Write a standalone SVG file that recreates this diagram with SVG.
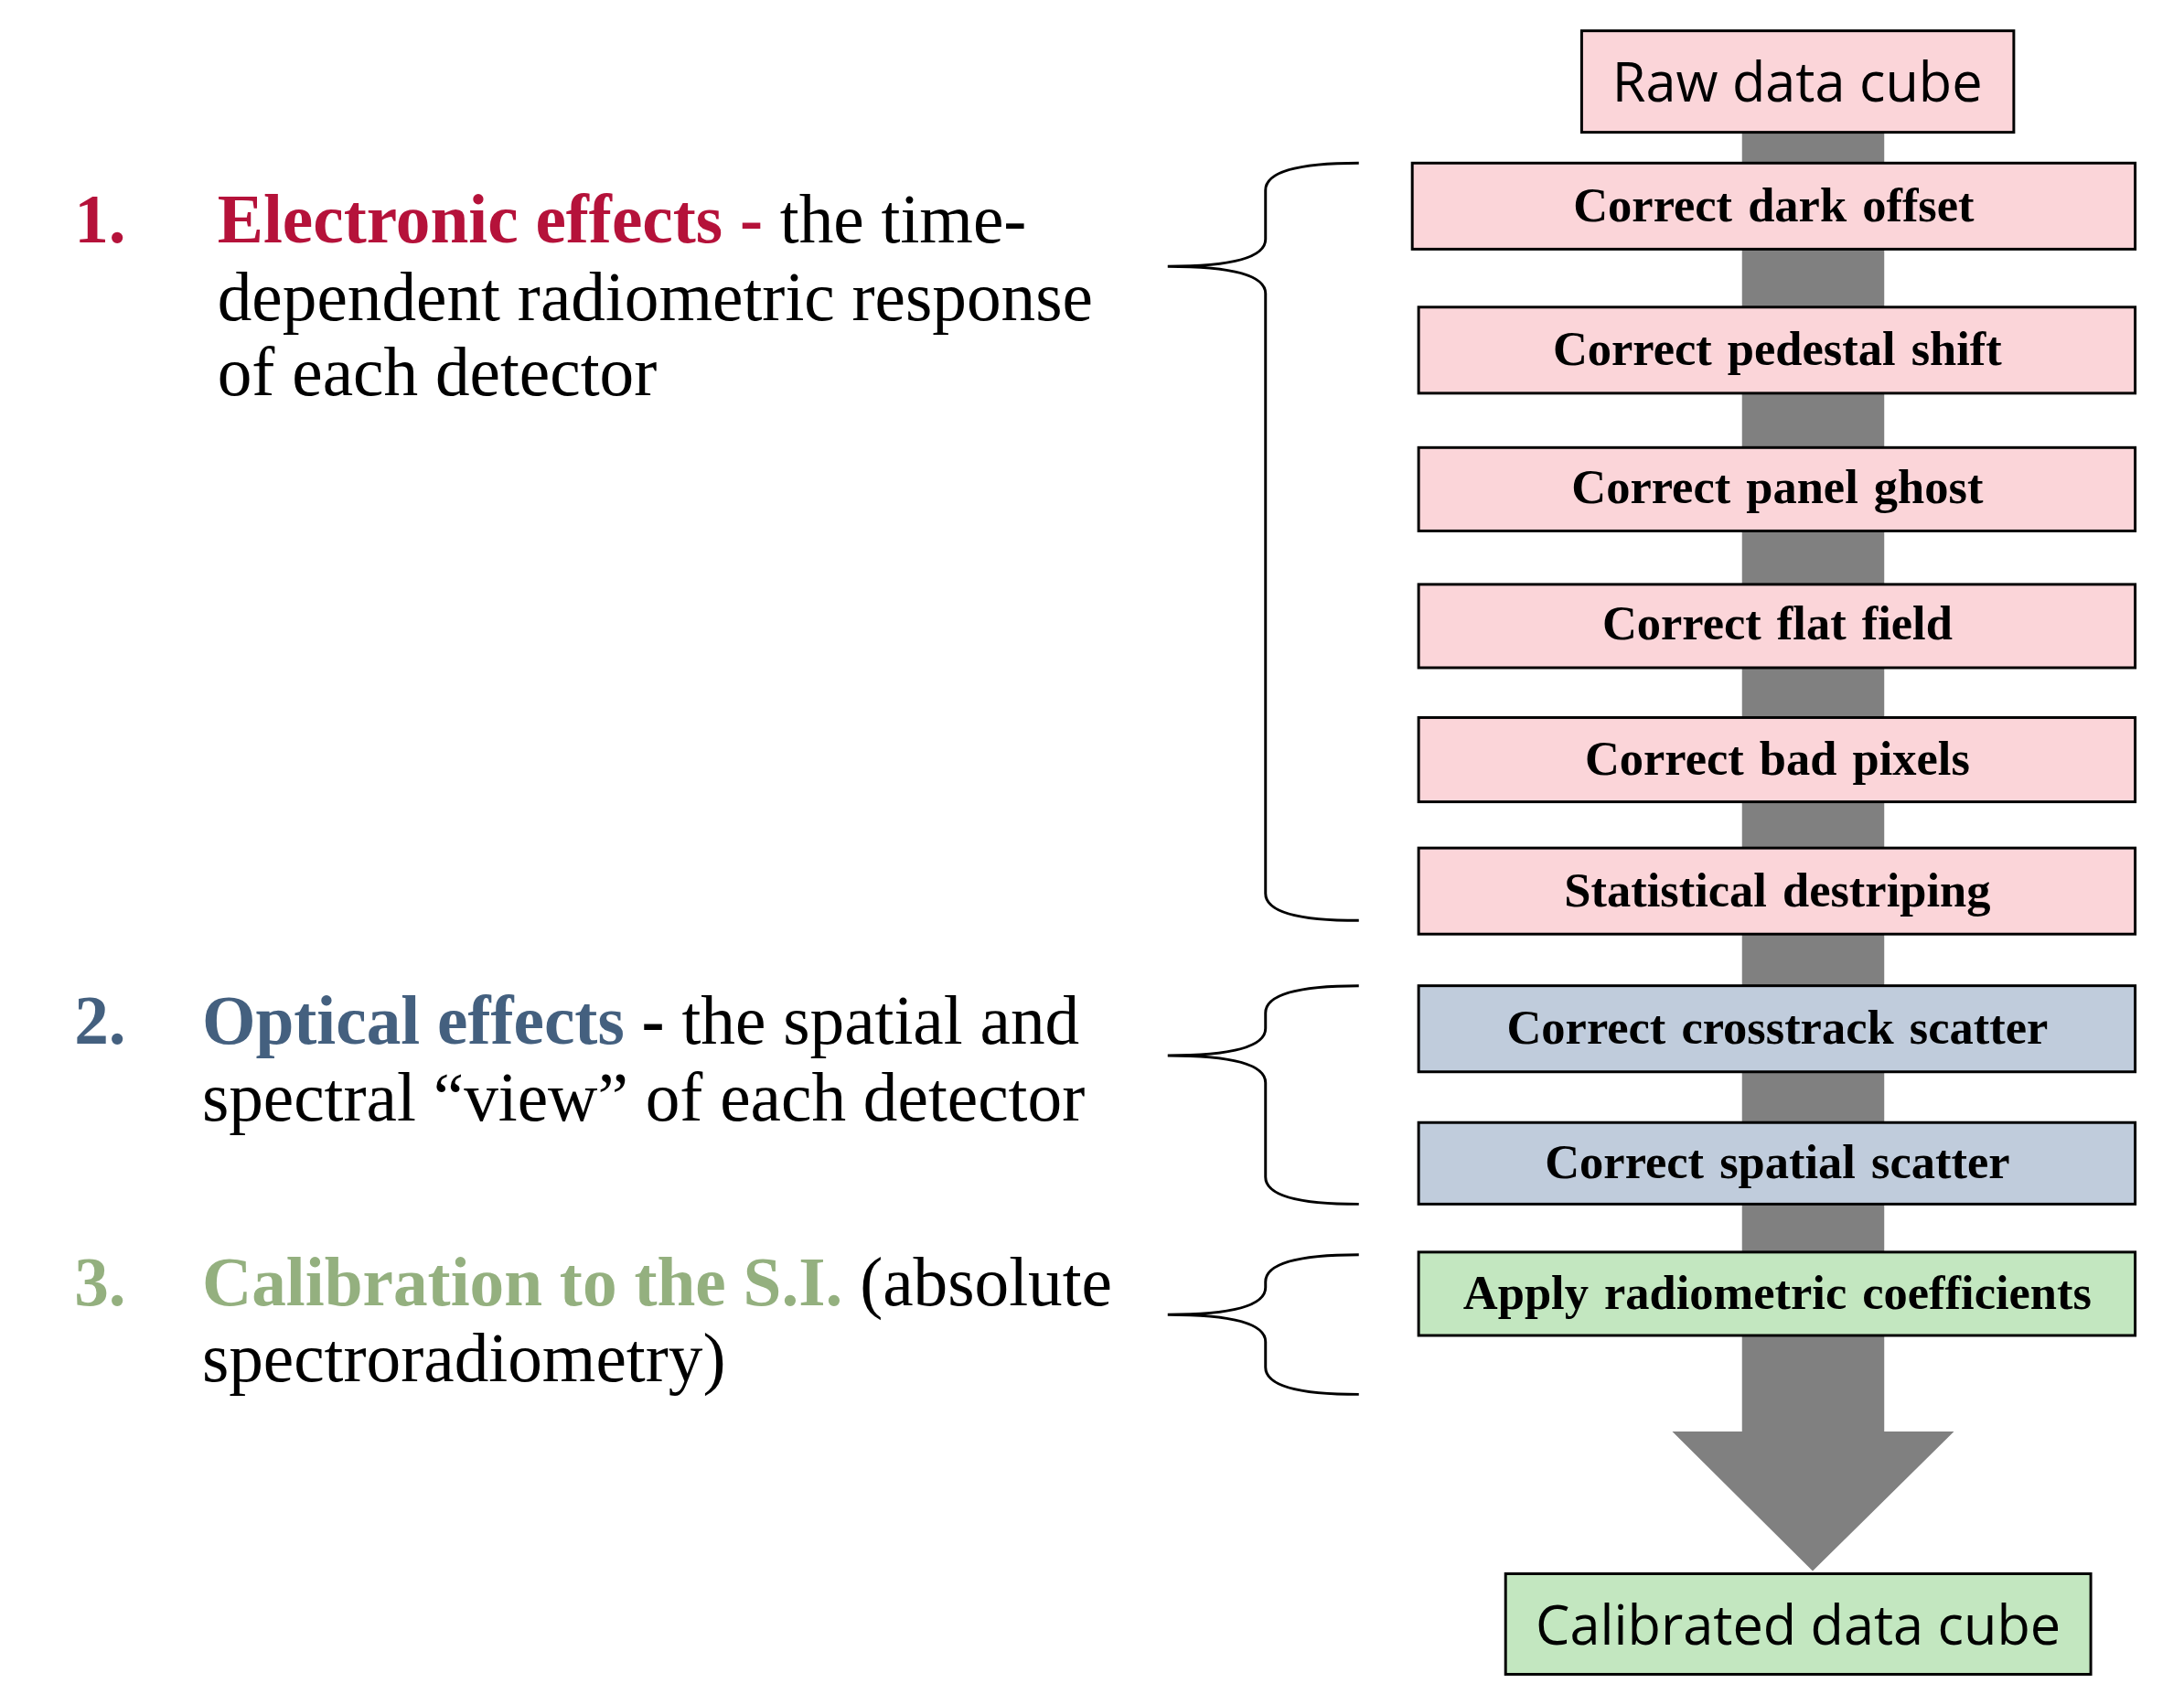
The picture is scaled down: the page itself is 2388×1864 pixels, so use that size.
<svg xmlns="http://www.w3.org/2000/svg" width="2388" height="1864" viewBox="0 0 2388 1864">
<style>
.b{stroke:#000;stroke-width:3}
.p{fill:#FBD5D9}.bl{fill:#C0CCDC}.g{fill:#C3E7C0}
.t{font-family:"Liberation Serif",serif;font-weight:bold;font-size:53px;text-anchor:middle;word-spacing:4px}
.s{font-family:"Open Sans","Liberation Sans",sans-serif;font-size:60px;text-anchor:middle}
.l{font-family:"Liberation Serif",serif;font-size:76px}
.br{fill:none;stroke:#000;stroke-width:3}
</style>
<rect width="2388" height="1864" fill="#fff"/>
<g transform="scale(0.9905)">
<g id="connectors">
<polygon points="1923,146 2080,146 2080,1580 2157,1580 2001,1734 1846,1580 1923,1580" fill="#808080"/>
<path class="br" d="M1500,180 Q1397,180 1397,210 L1397,264 Q1397,294 1289,294 Q1397,294 1397,324 L1397,986 Q1397,1016 1500,1016"/>
<path class="br" d="M1500,1088 Q1397,1088 1397,1118 L1397,1135 Q1397,1165 1289,1165 Q1397,1165 1397,1195 L1397,1299 Q1397,1329 1500,1329"/>
<path class="br" d="M1500,1385 Q1397,1385 1397,1415 L1397,1421 Q1397,1451 1289,1451 Q1397,1451 1397,1481 L1397,1509 Q1397,1539 1500,1539"/>
</g>
<g id="raw"><rect class="b p" x="1746" y="34" width="477" height="112"/><text class="s" x="1984" y="112">Raw data cube</text></g>
<g id="n1"><rect class="b p" x="1559" y="180" width="798" height="95"/><text class="t" x="1958" y="244">Correct dark offset</text></g>
<g id="n2"><rect class="b p" x="1566" y="339" width="791" height="95"/><text class="t" x="1962" y="403">Correct pedestal shift</text></g>
<g id="n3"><rect class="b p" x="1566" y="494" width="791" height="92"/><text class="t" x="1962" y="555">Correct panel ghost</text></g>
<g id="n4"><rect class="b p" x="1566" y="645" width="791" height="92"/><text class="t" x="1962" y="706">Correct flat field</text></g>
<g id="n5"><rect class="b p" x="1566" y="792" width="791" height="93"/><text class="t" x="1962" y="855">Correct bad pixels</text></g>
<g id="n6"><rect class="b p" x="1566" y="936" width="791" height="95"/><text class="t" x="1962" y="1000">Statistical destriping</text></g>
<g id="n7"><rect class="b bl" x="1566" y="1088" width="791" height="95"/><text class="t" x="1962" y="1152">Correct crosstrack scatter</text></g>
<g id="n8"><rect class="b bl" x="1566" y="1239" width="791" height="90"/><text class="t" x="1962" y="1300">Correct spatial scatter</text></g>
<g id="n9"><rect class="b g" x="1566" y="1382" width="791" height="92"/><text class="t" x="1962" y="1445">Apply radiometric coefficients</text></g>
<g id="cal"><rect class="b g" x="1662" y="1737" width="646" height="111"/><text class="s" x="1985" y="1815">Calibrated data cube</text></g>
<g id="text1" class="l">
<text x="82" y="268" fill="#B5123A" font-weight="bold">1.</text>
<text x="240" y="268"><tspan fill="#B5123A" font-weight="bold">Electronic effects -</tspan> the time-</text>
<text x="240" y="353">dependent radiometric response</text>
<text x="240" y="436">of each detector</text>
</g>
<g id="text2" class="l">
<text x="82" y="1152" fill="#44607F" font-weight="bold">2.</text>
<text x="223" y="1152"><tspan fill="#44607F" font-weight="bold">Optical effects</tspan><tspan font-weight="bold"> -</tspan> the spatial and</text>
<text x="223" y="1237">spectral “view” of each detector</text>
</g>
<g id="text3" class="l">
<text x="82" y="1441" fill="#94B07F" font-weight="bold">3.</text>
<text x="223" y="1441"><tspan fill="#94B07F" font-weight="bold">Calibration to the S.I.</tspan> (absolute</text>
<text x="223" y="1524">spectroradiometry)</text>
</g>
</g>
</svg>
